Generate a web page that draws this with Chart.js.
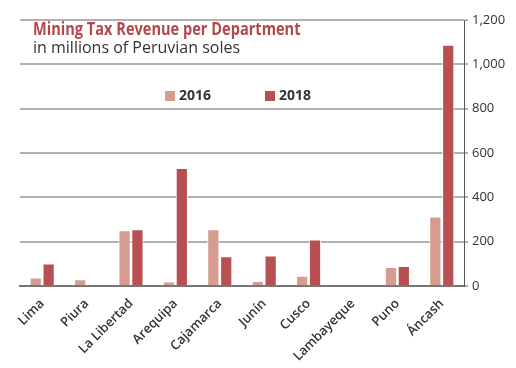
<!DOCTYPE html>
<html>
<head>
<meta charset="utf-8">
<script src="https://cdn.jsdelivr.net/npm/chart.js@4/dist/chart.umd.min.js"></script>
<style>
  body { margin: 0; background: #fff; }
  #wrap { position: relative; width: 516px; height: 368px; }
  #title { position: absolute; left: 33px; top: 16px; font: bold 18px "Open Sans", sans-serif; color: #b5474b; white-space: nowrap; transform: scaleX(0.81); transform-origin: left top; }
  #subtitle { position: absolute; left: 33px; top: 36px; font: 16px "Open Sans", sans-serif; color: #333; white-space: nowrap; }
  .leg { position: absolute; top: 85px; font: bold 14px "Open Sans", sans-serif; color: #333; }
  .leg span { display: inline-block; width: 10px; height: 10px; margin-right: 4px; vertical-align: -1px; }
</style>
</head>
<body>
<div id="wrap">
  <canvas id="chart" width="516" height="368"></canvas>
  <div id="title">Mining Tax Revenue per Department</div>
  <div id="subtitle">in millions of Peruvian soles</div>
  <div class="leg" style="left:165px"><span style="background:#d59c8f"></span>2016</div>
  <div class="leg" style="left:265px"><span style="background:#b84f52"></span>2018</div>
</div>
<script>
// -------------------------
// Data
// -------------------------
const departments = ["Lima", "Piura", "La Libertad", "Arequipa", "Cajamarca", "Junín", "Cusco", "Lambayeque", "Puno", "Áncash"];
const tax2016 = [38, 30, 252, 20, 256, 22, 46, 0, 86, 314];
const tax2018 = [102, 0, 256, 532, 134, 138, 210, 0, 90, 1088];
const yTicks = [0, 200, 400, 600, 800, 1000, 1200];

const color2016 = "#d59c8f";
const color2018 = "#b84f52";

// -------------------------
// Chart
// -------------------------
const ctx = document.getElementById("chart").getContext("2d");
new Chart(ctx, {
  type: "bar",
  data: {
    labels: departments,
    datasets: [
      { label: "2016", data: tax2016, backgroundColor: color2016, borderColor: "#fff", borderWidth: 1, borderSkipped: "bottom" },
      { label: "2018", data: tax2018, backgroundColor: color2018, borderColor: "#fff", borderWidth: 1, borderSkipped: "bottom" }
    ]
  },
  options: {
    responsive: false,
    animation: false,
    layout: { padding: { left: 20, top: 20, right: 0, bottom: 0 } },
    datasets: { bar: { barPercentage: 0.95, categoryPercentage: 0.58 } },
    plugins: { legend: { display: false }, tooltip: { enabled: false } },
    scales: {
      x: {
        grid: { display: false },
        border: { color: "#777", width: 2 },
        ticks: {
          color: "#333",
          font: { family: "Open Sans", size: 13, weight: "600" },
          maxRotation: 45, minRotation: 45, padding: 2, autoSkip: false
        },
        afterFit: s => { s.height = 82; }
      },
      y: {
        position: "right",
        min: 0, max: 1200,
        afterBuildTicks: s => { s.ticks = yTicks.map(v => ({ value: v })); },
        grid: { color: "#b0b0b0", lineWidth: 2, drawTicks: true, tickLength: 4 },
        border: { color: "#555", width: 1 },
        ticks: {
          color: "#333",
          font: { family: "Open Sans", size: 13 },
          padding: 4,
          callback: v => v.toLocaleString("en-US")
        },
        afterFit: s => { s.width = 52; }
      }
    }
  }
});
</script>
</body>
</html>
